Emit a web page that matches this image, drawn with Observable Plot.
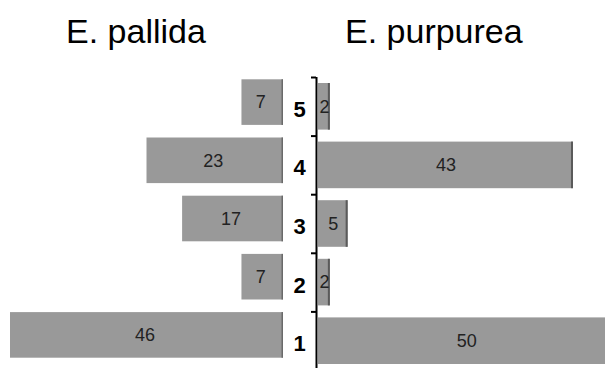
<!DOCTYPE html>
<html>
<head>
<meta charset="utf-8">
<script src="https://cdn.jsdelivr.net/npm/d3@7"></script>
<script src="https://cdn.jsdelivr.net/npm/@observablehq/plot@0.6"></script>
<style>
  html, body { margin: 0; padding: 0; background: #fff; overflow: hidden; }
  #wrap { position: relative; width: 605px; height: 368px; overflow: hidden; background: #fff;
          font-family: "Liberation Sans", Arial, sans-serif; }
  .title { position: absolute; top: 11px; font-size: 34px; color: #000; line-height: 40px; white-space: nowrap; }
  #left, #right { position: absolute; top: 0; }
  #left { left: 0; }
  #right { left: 280px; }
</style>
</head>
<body>
<div id="wrap">
  <div class="title" id="t1" style="left:66px">E. pallida</div>
  <div class="title" id="t2" style="left:345px">E. purpurea</div>
  <div id="left"></div>
  <div id="right"></div>
</div>
<script>
const categories = [5, 4, 3, 2, 1];
const pallida = [7, 23, 17, 7, 46];
const purpurea = [2, 43, 5, 2, 50];
const seriesNames = ["E. pallida", "E. purpurea"];
const boundaries = [1.5, 2.5, 3.5, 4.5, 5.5];

document.getElementById("t1").textContent = seriesNames[0];
document.getElementById("t2").textContent = seriesNames[1];

const leftData = categories.map((c, i) => ({c, v: pallida[i]}));
const rightData = categories.map((c, i) => ({c, v: purpurea[i]}));

const barFill = "#999999";
const font = "Liberation Sans, Arial, sans-serif";
const lo = d => d.c - 0.5;
const hi = d => d.c + 0.5;

const leftPlot = Plot.plot({
  width: 300,
  height: 368,
  marginLeft: 10,
  marginRight: 17,
  marginTop: 73,
  marginBottom: 4,
  style: {fontFamily: font, background: "transparent"},
  x: {domain: [0, 46], reverse: true, axis: null},
  y: {domain: [0.5, 5.5], axis: null},
  marks: [
    Plot.rect(leftData, {x1: 0, x2: "v", y1: lo, y2: hi,
      insetTop: 6.3, insetBottom: 6.3, fill: barFill}),
    Plot.rect(leftData, {x1: 0, x2: 0, y1: lo, y2: hi, insetLeft: -1.5,
      insetTop: 6.3, insetBottom: 6.3, fill: "#6a6a6a"}),
    Plot.text(leftData, {x: d => d.v / 2, y: "c", text: d => String(d.v), dx: -2,
      fontSize: 18, fill: "#222"})
  ]
});
document.getElementById("left").appendChild(leftPlot);

const rightPlot = Plot.plot({
  width: 325,
  height: 368,
  marginLeft: 38,
  marginRight: -9.5,
  marginTop: 77,
  marginBottom: -2,
  style: {fontFamily: font, background: "transparent", overflow: "hidden"},
  x: {domain: [0, 50], axis: null},
  y: {domain: [0.5, 5.5], axis: null},
  marks: [
    Plot.rect(rightData, {x1: 0, x2: "v", y1: lo, y2: hi,
      insetTop: 6, insetBottom: 6, fill: barFill}),
    Plot.rect(rightData, {x1: "v", x2: "v", y1: lo, y2: hi, insetLeft: -2,
      insetTop: 6, insetBottom: 6, fill: "#5a5a5a"}),
    Plot.ruleX([0], {y1: 0.5, y2: 5.5, stroke: "#000", strokeWidth: 2, dx: -2}),
    Plot.axisY({ticks: boundaries, tickSize: 5, tickFormat: () => "", label: null,
      dx: -2, stroke: "#000", strokeWidth: 2}),
    Plot.text(rightData, {x: d => d.v / 2, y: "c", text: d => String(d.v),
      fontSize: 18, fill: "#222"}),
    Plot.text(categories, {x: 0, y: d => d, text: d => String(d), dx: -19, dy: 3,
      fontSize: 22, fontWeight: "bold", fill: "#000"})
  ]
});
document.getElementById("right").appendChild(rightPlot);
</script>
</body>
</html>
